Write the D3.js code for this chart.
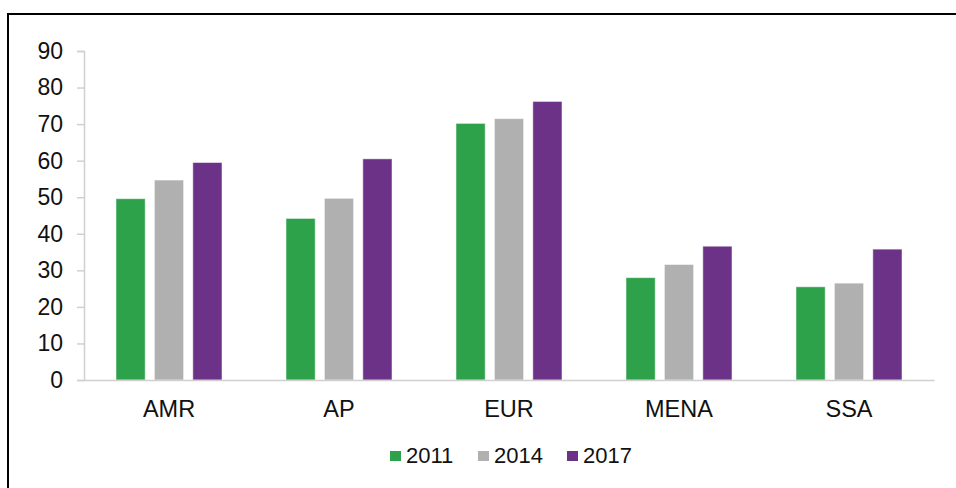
<!DOCTYPE html>
<html>
<head>
<meta charset="utf-8">
<script src="https://cdn.jsdelivr.net/npm/d3@7"></script>
<style>
  body { margin: 0; background: #fff; }
  svg { display: block; font-family: 'Liberation Sans', Arial, sans-serif; }
</style>
</head>
<body>
<div id="graf"></div>
<script>
// datos
regiones = ['AMR', 'AP', 'EUR', 'MENA', 'SSA']
anios = ['2011', '2014', '2017']
v2011 = [49.6, 44.2, 70.2, 28.0, 25.5]
v2014 = [54.7, 49.7, 71.5, 31.6, 26.5]
v2017 = [59.5, 60.5, 76.2, 36.6, 35.8]
ticksY = [0, 10, 20, 30, 40, 50, 60, 70, 80, 90]
colores = ['#2ea24a', '#b0b0b0', '#6c3287']

series = [v2011, v2014, v2017]

ancho_total = 956
alto_total = 488
margins = {top: 51, left: 84, right: 22, bottom: 108}
ancho = ancho_total - margins.left - margins.right
alto = alto_total - margins.top - margins.bottom
fuente = 'Liberation Sans, Arial, sans-serif'

svg = d3.select('#graf').append('svg')
        .attr('width', ancho_total)
        .attr('height', alto_total)

// marco exterior
svg.append('rect')
   .attr('x', 8).attr('y', 14)
   .attr('width', ancho_total).attr('height', alto_total)
   .attr('fill', 'none')
   .attr('stroke', '#000')
   .attr('stroke-width', 2)

g = svg.append('g')
       .attr('transform', `translate(${margins.left}, ${margins.top})`)

x = d3.scaleBand().domain(regiones).range([0, ancho])
x1 = d3.scaleBand().domain(anios).range([-53, 53]).paddingInner(0.24)
y = d3.scaleLinear().domain([0, 90]).range([alto, 0])

// eje Y
ejeY = d3.axisLeft(y).tickValues(ticksY).tickSize(7).tickPadding(14)
gy = g.append('g').call(ejeY)
gy.select('.domain').attr('stroke', '#d0d0d0').attr('stroke-width', 1.5)
gy.selectAll('.tick line').attr('stroke', '#d0d0d0').attr('stroke-width', 1.5)
gy.selectAll('.tick text').style('font-size', '23px').attr('fill', '#111')
  .style('font-family', fuente)

// barras
regiones.forEach((reg, i) => {
    gr = g.append('g').attr('transform', `translate(${x(reg) + x.bandwidth() / 2}, 0)`)
    gr.selectAll('rect')
      .data(anios.map((a, k) => ({anio: a, valor: series[k][i], k: k})))
      .enter()
      .append('rect')
        .attr('x', d => x1(d.anio))
        .attr('y', d => y(d.valor))
        .attr('width', x1.bandwidth())
        .attr('height', d => alto - y(d.valor))
        .attr('fill', d => colores[d.k])
        .attr('stroke', '#fff')
        .attr('stroke-opacity', 0.5)
        .attr('stroke-width', 1)
})

// eje X
ejeX = d3.axisBottom(x).tickSize(0).tickPadding(20)
gx = g.append('g').attr('transform', `translate(0, ${alto})`).call(ejeX)
gx.select('.domain').attr('stroke', '#d0d0d0').attr('stroke-width', 1.5)
gx.selectAll('.tick text').style('font-size', '23.5px').attr('fill', '#111')
  .style('font-family', fuente)

// leyenda
leyX = [390, 478, 567]
anios.forEach((a, k) => {
    svg.append('rect')
       .attr('x', leyX[k]).attr('y', 451)
       .attr('width', 11).attr('height', 10)
       .attr('fill', colores[k])
    svg.append('text')
       .attr('x', leyX[k] + 16).attr('y', 462.5)
       .style('font-size', '22px')
       .style('font-family', fuente)
       .attr('fill', '#111')
       .text(a)
})
</script>
</body>
</html>
